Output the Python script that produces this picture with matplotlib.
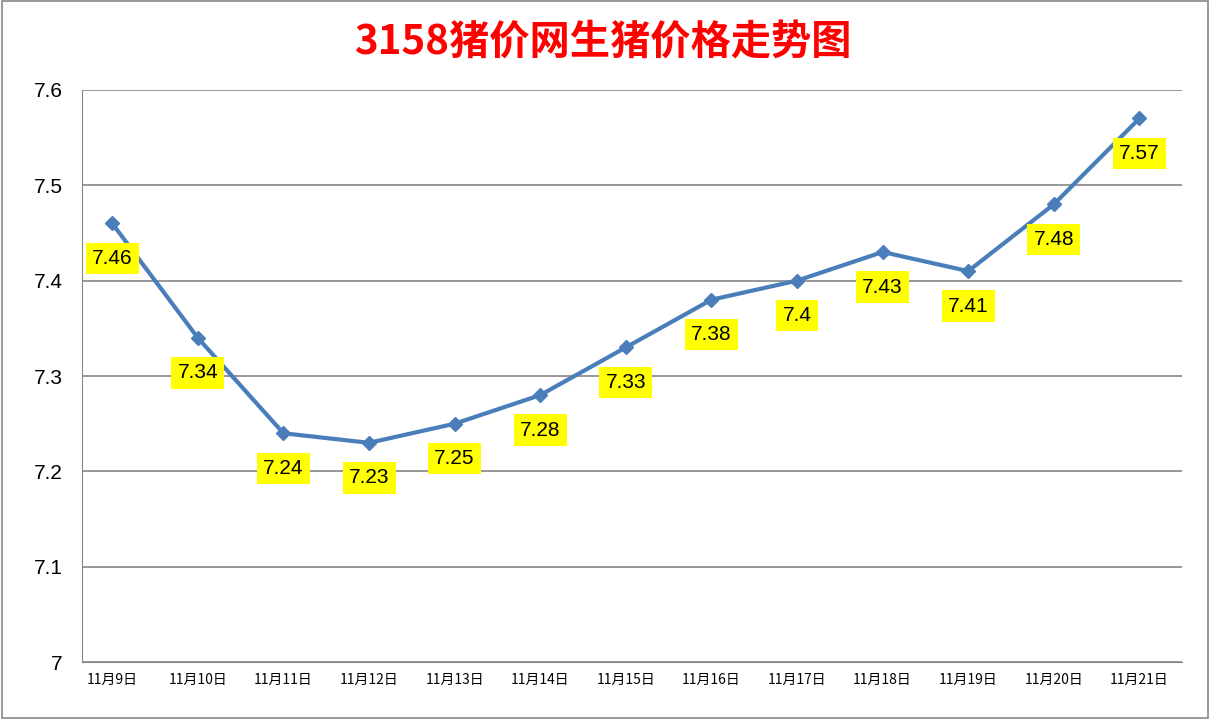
import matplotlib.pyplot as plt
from matplotlib.patches import Rectangle

plt.rcParams['font.family'] = ['Noto Sans CJK SC', 'DejaVu Sans']

dates = ["11月9日", "11月10日", "11月11日", "11月12日", "11月13日", "11月14日", "11月15日",
         "11月16日", "11月17日", "11月18日", "11月19日", "11月20日", "11月21日"]
prices = [7.46, 7.34, 7.24, 7.23, 7.25, 7.28, 7.33, 7.38, 7.4, 7.43, 7.41, 7.48, 7.57]
labels = ["7.46", "7.34", "7.24", "7.23", "7.25", "7.28", "7.33", "7.38", "7.4", "7.43", "7.41", "7.48", "7.57"]

fig = plt.figure(figsize=(12.1, 7.19), dpi=100)
fig.patches.append(Rectangle((0.002, 0.002), 0.996, 0.996, transform=fig.transFigure,
                             fill=False, edgecolor='#888888', linewidth=1.2))
ax = fig.add_axes([0.068, 0.079, 0.909, 0.796])

x = list(range(len(dates)))
ax.plot(x, prices, color='#4a7ebb', linewidth=3, marker='D', markersize=7, zorder=3)

for i, (p, t) in enumerate(zip(prices, labels)):
    ax.annotate(t, (i, p), xytext=(0, -35), textcoords='offset pixels', ha='center', va='center',
                fontsize=15, fontfamily=['Liberation Sans', 'DejaVu Sans'],
                bbox=dict(boxstyle='square,pad=0.3', fc='#ffff00', ec='none'), zorder=4)

ax.set_xlim(-0.35, len(dates) - 0.5)
ax.set_ylim(7.0, 7.6)
ax.set_yticks([7.0, 7.1, 7.2, 7.3, 7.4, 7.5, 7.6])
ax.set_yticklabels(["7", "7.1", "7.2", "7.3", "7.4", "7.5", "7.6"], fontsize=15,
                   fontfamily='Liberation Sans')
ax.set_xticks(x)
ax.set_xticklabels(dates, fontsize=10)
ax.tick_params(axis='y', length=0, pad=14)
ax.tick_params(axis='x', length=0, pad=8)
ax.grid(axis='y', color='#868686', linewidth=1.2)
ax.set_axisbelow(True)
for side in ['top', 'right']:
    ax.spines[side].set_visible(False)
ax.spines['left'].set_color('#868686')
ax.spines['bottom'].set_color('#868686')

fig.text(0.498, 0.94, "3158猪价网生猪价格走势图", color='red', fontsize=29, fontweight='bold',
         ha='center', va='center')

fig.savefig('out.png')
